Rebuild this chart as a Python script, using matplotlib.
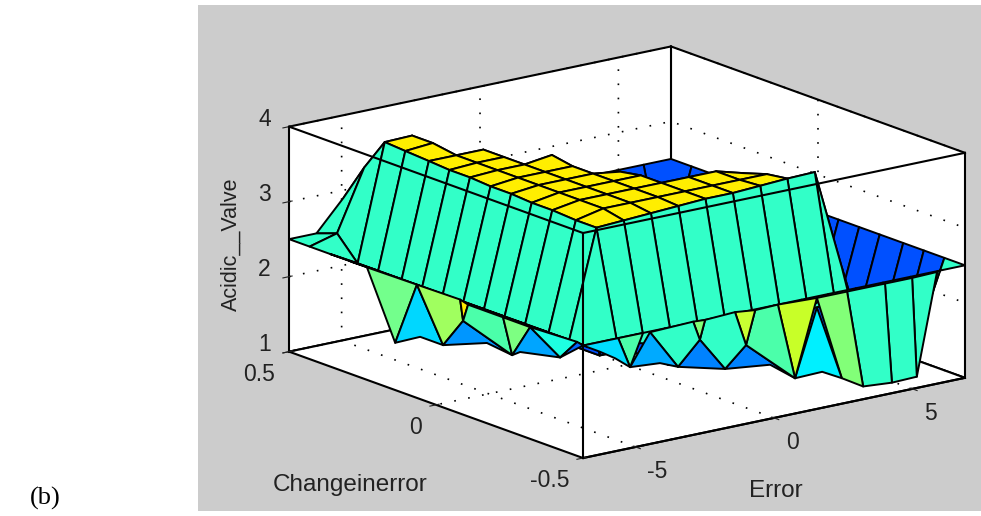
import numpy as np
import matplotlib
matplotlib.use("Agg")
import matplotlib.pyplot as plt
from matplotlib.patches import Rectangle
from matplotlib.colors import to_rgba
from mpl_toolkits.mplot3d.art3d import Poly3DCollection

plt.rcParams['font.family'] = ['Liberation Sans', 'DejaVu Sans']
plt.rcParams['grid.linestyle'] = (0, (1, 7.5))
plt.rcParams['grid.color'] = 'black'
plt.rcParams['grid.linewidth'] = 1.2

error_grid = [-6.9, -5.91, -4.93, -3.94, -2.96, -1.97, -0.99, 0.0,
              0.99, 1.97, 2.96, 3.94, 4.93, 5.91, 6.9]
change_grid = [-0.5, -0.43, -0.36, -0.29, -0.21, -0.14, -0.07, 0.0,
               0.07, 0.14, 0.21, 0.29, 0.36, 0.43, 0.5]

# one row per error value, one column per change in error value
valve = [
    [2.5, 2.5, 2.5, 2.5, 2.5, 2.5, 2.5, 2.5, 2.5, 2.5, 2.5, 2.5, 2.5, 2.5, 2.5],
    [2.5, 2.3, 2.3, 2.3, 2.3, 2.3, 2.3, 2.3, 2.3, 2.3, 2.3, 2.3, 2.3, 2.6, 2.5],
    [2.5, 2.3, 3.72, 3.72, 3.74, 3.74, 3.76, 3.76, 3.78, 3.78, 3.8, 3.82, 3.84, 3.4, 2.9],
    [2.5, 2.2, 3.74, 3.8, 3.8, 3.8, 3.8, 3.8, 3.8, 3.8, 3.8, 3.85, 3.85, 1.2, 2.5],
    [2.5, 2.2, 3.76, 3.8, 3.8, 3.8, 3.8, 3.8, 3.8, 3.8, 3.8, 1.2, 1.2, 1.2, 2.5],
    [2.5, 2.2, 3.78, 3.8, 3.8, 3.8, 3.8, 3.8, 3.85, 1.2, 1.2, 1.2, 1.2, 1.2, 2.5],
    [2.5, 2.2, 3.8, 3.8, 3.8, 3.8, 3.75, 1.2, 1.2, 1.2, 1.2, 1.2, 1.2, 1.2, 2.5],
    [2.5, 2.2, 3.8, 3.8, 3.8, 1.2, 1.2, 1.2, 1.2, 1.2, 1.2, 1.2, 1.2, 1.2, 2.5],
    [2.5, 2.2, 3.82, 3.8, 3.8, 1.2, 1.2, 1.2, 1.2, 1.2, 1.2, 1.2, 1.2, 1.2, 2.5],
    [2.5, 2.2, 3.84, 3.8, 3.7, 1.2, 1.2, 1.2, 1.2, 1.2, 1.2, 1.2, 1.2, 1.2, 2.5],
    [2.5, 2.2, 3.85, 1.2, 1.2, 1.2, 1.2, 1.2, 1.2, 1.2, 1.2, 1.2, 1.2, 1.2, 2.5],
    [2.5, 1.5, 2.5, 1.2, 1.2, 1.2, 1.2, 1.2, 1.2, 1.2, 1.2, 1.2, 1.2, 1.2, 2.5],
    [2.5, 1.5, 1.2, 1.2, 1.2, 1.2, 1.2, 1.2, 1.2, 1.2, 1.2, 1.2, 1.2, 1.2, 2.5],
    [2.5, 1.5, 1.2, 1.2, 1.2, 1.2, 1.2, 1.2, 1.2, 1.2, 1.2, 1.2, 1.2, 1.2, 2.5],
    [2.5, 2.5, 2.5, 2.5, 2.5, 2.5, 2.5, 2.5, 2.5, 2.5, 2.5, 2.5, 2.5, 2.5, 2.5],
]

# jagged lower part under the error = -6.9 edge (change in error, valve)
left_change = [0.235, 0.065, 0.139, 0.054, -0.024, -0.082, -0.109, -0.092,
               -0.173, -0.259, -0.228, -0.32, -0.286, -0.422, -0.48, -0.5]
left_valve = [2.5, 2.51, 1.63, 1.83, 1.83, 2.52, 2.49, 2.25,
              2.07, 2.03, 2.49, 2.49, 2.11, 2.23, 2.52, 2.5]
left_faces = [[0, 1, 2], [1, 2, 3, 4], [1, 5, 7, 4], [5, 6, 7], [6, 7, 9, 10],
              [7, 4, 8, 9], [10, 11, 9], [11, 9, 12, 13], [11, 14, 13], [13, 14, 15]]
left_colors = ['#73ff8c', '#00d7ff', '#a0ff5f', '#ffeb00', '#4bffaa',
               '#0096ff', '#7dff82', '#00a5ff', '#1effe1', '#0064ff']

# same under the change in error = -0.5 edge (error, valve)
right_error = [-6.9, -5.63, -5.2, -5.74, -6.29, -4.73, -4.48, -3.47, -4.12,
               -2.92, -2.49, -2.68, -1.77, -1.41, -0.68, -1.01, 0.14, 0.76,
               1.55, 1.55, 1.74, 2.45, 2.64, 3.22, 4.01, 4.26, 4.99, 5.16, 5.89, -0.14]
right_valve = [2.5, 2.5, 2.08, 2.24, 2.37, 2.5, 2.49, 1.95, 2.05,
               2.51, 2.5, 2.25, 1.79, 2.52, 2.49, 2.05, 2.5, 1.47,
               2.48, 2.35, 1.48, 1.34, 2.48, 1.17, 2.48, 1.14, 2.48, 1.15, 2.49, 1.72]
right_faces = [[0, 1, 2, 3, 4], [1, 5, 2], [6, 2, 8, 7], [6, 9, 11, 7], [9, 10, 11],
               [11, 7, 12], [10, 13, 15, 12, 11], [13, 14, 15], [14, 16, 17, 15],
               [16, 18, 17], [19, 17, 20, 21], [18, 22, 23, 21], [22, 24, 25, 23],
               [24, 26, 27, 25], [26, 28, 27], [15, 12, 29, 17]]
right_colors = ['#00dcff', '#4bffaa', '#00aaff', '#32ffc8', '#82ff78',
                '#0082ff', '#32ffc8', '#c8ff32', '#4bffaa',
                '#c8ff28', '#00f0ff', '#82ff78', '#32ffc8', '#32ffc8', '#32ffc8',
                '#0082ff']

TEAL = '#32ffc8'
YELLOW = '#ffee00'
BLUE = '#0050ff'


def cell_colors(z):
    # yellow on the plateau, blue in the valley, teal on the slopes
    colors = np.zeros((z.shape[0] - 1, z.shape[1] - 1, 4))
    for i in range(z.shape[0] - 1):
        for j in range(z.shape[1] - 1):
            cell = z[i:i + 2, j:j + 2]
            if cell.min() > 3.5:
                colors[i, j] = to_rgba(YELLOW)
            elif cell.mean() < 2.2 or (cell.min() < 1.4 and cell.mean() < 2.6):
                colors[i, j] = to_rgba(BLUE)
            else:
                colors[i, j] = to_rgba(TEAL)
    return colors


fig = plt.figure(figsize=(9.81, 5.16), dpi=100, facecolor='white')
fig.patches.append(Rectangle((198 / 981, 5 / 516), 783 / 981, 506 / 516,
                             transform=fig.transFigure, facecolor='#cccccc',
                             edgecolor='none', figure=fig, zorder=-1))

ax = fig.add_axes([267.3 / 981, -95.95 / 516, 700.5 / 981, 700.5 / 516],
                  projection='3d', proj_type='ortho', computed_zorder=False)
ax.patch.set_visible(False)
ax.view_init(elev=16, azim=-127.3)
ax.set_box_aspect((480, 485, 234))
ax.set_xlim(-6.9, 6.9, view_margin=0)
ax.set_ylim(-0.5, 0.5, view_margin=0)
ax.set_zlim(1, 4, view_margin=0)

X, Y = np.meshgrid(error_grid, change_grid, indexing='ij')
Z = np.array(valve)
surf = ax.plot_surface(X, Y, Z, rstride=1, cstride=1, facecolors=cell_colors(Z),
                       shade=False, zorder=2)
surf.set_edgecolor('black')
surf.set_linewidth(1.4)

left_polys = [[(-6.9, left_change[k], left_valve[k]) for k in face] for face in left_faces]
right_polys = [[(right_error[k], -0.5, right_valve[k]) for k in face] for face in right_faces]
skirt = Poly3DCollection(left_polys + right_polys, facecolors=left_colors + right_colors,
                         edgecolors='black', linewidths=1.4, zorder=3)
ax.add_collection3d(skirt)

# box edges that the panes do not draw, the front ones go over the surface
ax.plot([6.9, 6.9], [-0.5, -0.5], [1, 4], color='black', lw=1.5, zorder=1)
ax.plot([-6.9, -6.9], [-0.5, -0.5], [1, 4], color='black', lw=1.5, zorder=4)
ax.plot([-6.9, -6.9], [-0.5, 0.5], [4, 4], color='black', lw=1.5, zorder=4)
ax.plot([-6.9, 6.9], [-0.5, -0.5], [4, 4], color='black', lw=1.5, zorder=4)

ax.set_xticks([-5, 0, 5])
ax.set_xticklabels(['-5', '0', '5'])
ax.set_yticks([-0.5, 0, 0.5])
ax.set_yticklabels(['-0.5', '0', '0.5'])
ax.set_zticks([1, 2, 3, 4])
ax.tick_params(labelsize=16.5, colors='#222222')
ax.tick_params(axis='x', pad=2.5)
ax.tick_params(axis='y', pad=1.5)
ax.tick_params(axis='z', pad=1.5)
for axis in (ax.xaxis, ax.yaxis, ax.zaxis):
    axis.set_pane_color((1, 1, 1, 1))
    axis.pane.set_edgecolor('black')
    axis.pane.set_linewidth(1.5)
    axis.line.set_linewidth(1.5)
for tick in ax.xaxis.get_major_ticks():
    tick.label1.set_ha('left')
for tick in ax.yaxis.get_major_ticks():
    tick.label1.set_ha('right')
for tick in ax.zaxis.get_major_ticks():
    tick.label1.set_va('baseline')

fig.text(350 / 981, 1 - 485 / 516, 'Changeinerror', fontsize=17.5, color='#222222',
         ha='center', va='center')
fig.text(776 / 981, 1 - 491 / 516, 'Error', fontsize=17.5, color='#222222',
         ha='center', va='center')
fig.text(231 / 981, 1 - 244 / 516, 'Acidic__Valve', fontsize=15.5, color='#222222',
         ha='center', va='center', rotation=90)
fig.text(30 / 981, 1 - 498 / 516, '(b)', family='Liberation Serif', fontsize=19,
         va='center')
fig.savefig('out.png', dpi=100, facecolor='white')
